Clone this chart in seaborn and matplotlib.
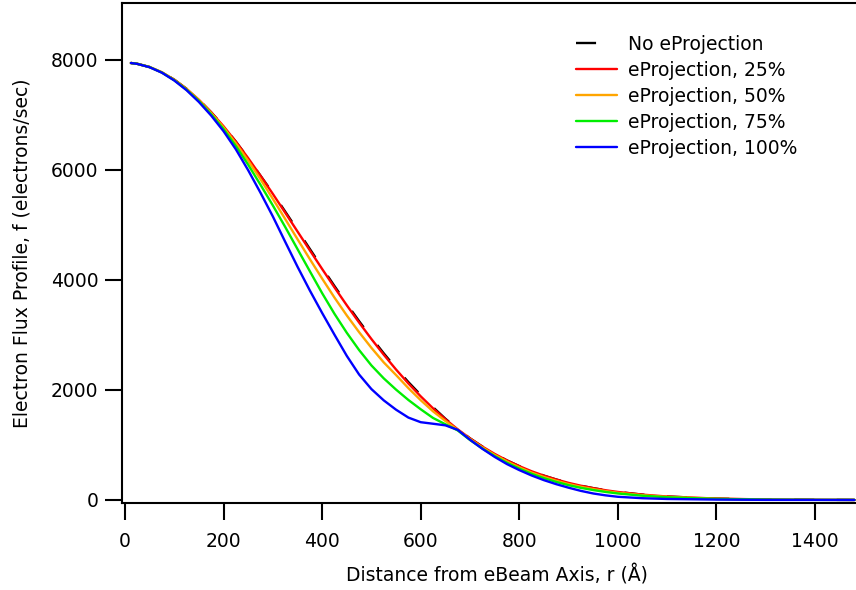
import matplotlib
matplotlib.use("Agg")
import matplotlib.pyplot as plt
import seaborn as sns
import pandas as pd

# radius grid (Å)
r = [12, 25, 50, 75, 100, 125, 150, 175, 200, 225, 250, 275, 300, 325, 350, 375,
     400, 425, 450, 475, 500, 525, 550, 575, 600, 625, 650, 675, 700, 725, 750,
     775, 800, 825, 850, 875, 900, 925, 950, 975, 1000, 1050, 1100, 1200, 1300,
     1400, 1480]

no_proj = [7945, 7930, 7872, 7776, 7642, 7475, 7276, 7048, 6795, 6515, 6215, 5895,
           5580, 5245, 4907, 4565, 4225, 3890, 3565, 3251, 2951, 2666, 2396, 2143,
           1909, 1686, 1477, 1290, 1120, 971, 838, 719, 615, 522, 442, 372, 311, 259,
           215, 177, 146, 97, 63, 25, 9, 3, 1]
proj25 = [7945, 7930, 7872, 7776, 7642, 7475, 7276, 7048, 6795, 6515, 6215, 5895,
          5565, 5225, 4882, 4540, 4200, 3865, 3540, 3226, 2926, 2641, 2371, 2118,
          1884, 1666, 1467, 1285, 1120, 971, 838, 719, 615, 522, 442, 372, 311, 259,
          215, 177, 146, 97, 63, 25, 9, 3, 1]
proj50 = [7945, 7930, 7872, 7776, 7639, 7470, 7268, 7036, 6775, 6485, 6170, 5830,
          5475, 5110, 4742, 4380, 4025, 3680, 3355, 3051, 2766, 2501, 2271, 2033,
          1814, 1611, 1437, 1273, 1108, 956, 820, 699, 593, 498, 418, 349, 289, 239,
          197, 161, 131, 87, 56, 22, 8, 3, 1]
proj75 = [7945, 7930, 7870, 7771, 7632, 7460, 7254, 7013, 6745, 6435, 6095, 5730,
          5355, 4965, 4562, 4160, 3760, 3385, 3040, 2726, 2446, 2211, 2006, 1818,
          1649, 1491, 1377, 1265, 1090, 936, 798, 676, 570, 476, 396, 328, 269, 220,
          180, 146, 118, 77, 49, 19, 7, 2, 1]
proj100 = [7945, 7929, 7868, 7768, 7627, 7450, 7236, 6988, 6705, 6375, 5995, 5585,
           5155, 4695, 4242, 3810, 3400, 3005, 2620, 2281, 2016, 1811, 1641, 1498,
           1414, 1386, 1357, 1275, 1095, 931, 783, 652, 543, 445, 360, 287, 223, 165,
           118, 84, 58, 32, 18, 7, 2, 1, 0]

labels = ["No eProjection", "eProjection, 25%", "eProjection, 50%",
          "eProjection, 75%", "eProjection, 100%"]
series = [no_proj, proj25, proj50, proj75, proj100]
colors = ["#000000", "#FF0000", "#FFA500", "#00EE00", "#0000FF"]

rows = []
for lab, vals in zip(labels, series):
    for x, y in zip(r, vals):
        rows.append({"r": x, "f": y, "series": lab})
df = pd.DataFrame(rows)

sns.set_theme(style="ticks")
plt.rcParams["font.family"] = ["DejaVu Sans"]
plt.rcParams["text.color"] = "black"
plt.rcParams["axes.labelcolor"] = "black"

FS = 13.5
LW = 1.7
fig = plt.figure(figsize=(8.56, 5.90), dpi=100)
ax = fig.add_axes([122 / 856, (590 - 503) / 590, 1 - 122 / 856, (503 - 2.5) / 590])

dash_map = {lab: "" for lab in labels}
dash_map["No eProjection"] = (8.5, 9.5)
sns.lineplot(data=df, x="r", y="f", hue="series", style="series",
             hue_order=labels, style_order=labels,
             palette=dict(zip(labels, colors)), dashes=dash_map,
             linewidth=LW, ax=ax, sort=False)

ax.set_xlim(-6, 1483)
ax.set_ylim(-55, 9045)
ax.set_xticks([0, 200, 400, 600, 800, 1000, 1200, 1400])
ax.set_yticks([0, 2000, 4000, 6000, 8000])

for s in ["left", "bottom", "top"]:
    ax.spines[s].set_linewidth(1.5)
    ax.spines[s].set_color("black")
ax.spines["right"].set_visible(False)
ax.tick_params(axis="both", direction="out", length=12, width=1.5,
               labelsize=FS, colors="black")
ax.tick_params(axis="x", pad=9)
ax.tick_params(axis="y", pad=5)

ax.set_xlabel("Distance from eBeam Axis, r (Å)", fontsize=FS, color="black")
ax.set_ylabel("Electron Flux Profile, f (electrons/sec)", fontsize=FS, color="black")
ax.xaxis.set_label_coords((497 - 122) / 734, -0.122)
ax.yaxis.set_label_coords((32 - 122) / 734, 0.5)

leg = ax.legend(loc="upper left", bbox_to_anchor=((576 - 122) / 734, (503 - 35) / 500.5),
                frameon=False, fontsize=FS, handlelength=2.2, handletextpad=0.59,
                labelspacing=0.37, borderpad=0, borderaxespad=0)
for h in leg.get_lines():
    h.set_linewidth(LW)
for t in leg.get_texts():
    t.set_color("black")

fig.savefig("out.png", dpi=100)
